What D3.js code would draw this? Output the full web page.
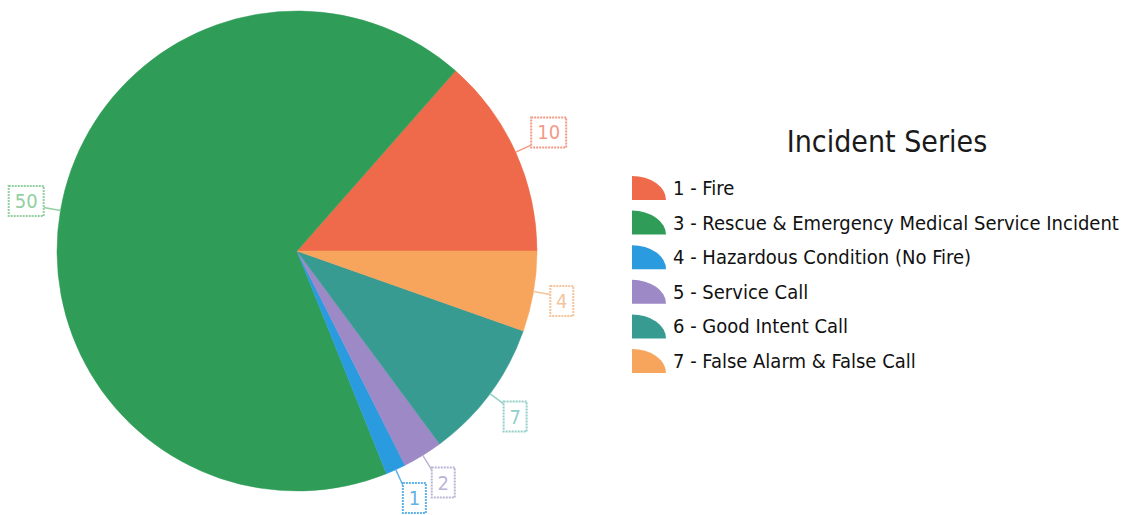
<!DOCTYPE html>
<html><head><meta charset="utf-8">
<script src="https://cdn.jsdelivr.net/npm/d3@7"></script>
<style>html,body{margin:0;padding:0;background:#fff;}svg{display:block;}</style>
</head><body>
<svg id="chart" width="1127" height="515"></svg>
<script>
const categories = ["1 - Fire", "3 - Rescue & Emergency Medical Service Incident", "4 - Hazardous Condition (No Fire)", "5 - Service Call", "6 - Good Intent Call", "7 - False Alarm & False Call"];
const values = [10, 50, 1, 2, 7, 4];
const colors = ["#ee6a4b", "#2f9d58", "#2b9be0", "#9c89c6", "#389b92", "#f7a45c"];
const labelColors = ["#f29a86", "#92cf9f", "#5fb2e8", "#bdb3d6", "#92cfc8", "#f4c49a"];
const title = "Incident Series";

const FONT = "'DejaVu Sans Condensed', 'DejaVu Sans', sans-serif";
const svg = d3.select("#chart");
const cx = 297, cy = 251, R = 240;
const data = categories.map((c, i) => ({name: c, value: values[i], color: colors[i], lc: labelColors[i]}));

const pie = d3.pie().value(d => d.value).sort(null)
  .startAngle(Math.PI / 2).endAngle(Math.PI / 2 - 2 * Math.PI);
const arcs = pie(data);
const arc = d3.arc().innerRadius(0).outerRadius(R);

const g = svg.append("g").attr("transform", `translate(${cx},${cy})`);
g.selectAll("path.slice").data(arcs).enter().append("path")
  .attr("class", "slice")
  .attr("d", arc)
  .attr("fill", d => d.data.color)
  .attr("stroke", d => d.data.color)
  .attr("stroke-width", 0.5);

// callout labels
const lab = g.selectAll("g.lab").data(arcs).enter().append("g").attr("class", "lab");
arcs.forEach((d, i) => {
  const a = (d.startAngle + d.endAngle) / 2;
  const sx = Math.sin(a), sy = -Math.cos(a);
  const p0 = [sx * R, sy * R];
  const p1 = [sx * (R + 17), sy * (R + 17)];
  const grp = d3.select(lab.nodes()[i]);
  grp.append("line")
    .attr("x1", p0[0]).attr("y1", p0[1]).attr("x2", p1[0]).attr("y2", p1[1])
    .attr("stroke", d.data.lc).attr("stroke-width", 1.5);
  const txt = String(d.data.value);
  const w = txt.length > 1 ? 35 : 23, h = 30;
  const dir = sx >= 0 ? 1 : -1;
  const vy = Math.max(-1, Math.min(1, sy * 3));
  const bxC = p1[0] + dir * w / 2;
  const byC = p1[1] + vy * h / 2 * 0.85;
  grp.append("rect")
    .attr("x", bxC - w / 2).attr("y", byC - h / 2)
    .attr("width", w).attr("height", h)
    .attr("fill", "#fff")
    .attr("stroke", d.data.lc).attr("stroke-width", 2)
    .attr("stroke-dasharray", "2,1");
  grp.append("text")
    .attr("x", bxC).attr("y", byC + 7)
    .attr("text-anchor", "middle")
    .attr("font-family", FONT)
    .attr("font-size", 20)
    .attr("fill", d.data.lc)
    .text(txt);
});

// legend
const leg = svg.append("g");
leg.append("text")
  .attr("x", 887).attr("y", 152)
  .attr("text-anchor", "middle")
  .attr("font-family", FONT)
  .attr("font-size", 30)
  .attr("fill", "#1a1a1a")
  .text(title);
const rowY = d3.scalePoint().domain(categories).range([188, 361]);
const items = leg.selectAll("g.item").data(data).enter().append("g")
  .attr("class", "item")
  .attr("transform", d => `translate(632,${rowY(d.name)})`);
items.append("path")
  .attr("d", "M0,12 L0,-12 A34,24 0 0 1 34,12 Z")
  .attr("fill", d => d.color);
items.append("text")
  .attr("x", 41).attr("y", 7)
  .attr("font-family", FONT)
  .attr("font-size", 20)
  .attr("fill", "#111")
  .text(d => d.name);
</script>
</body></html>
